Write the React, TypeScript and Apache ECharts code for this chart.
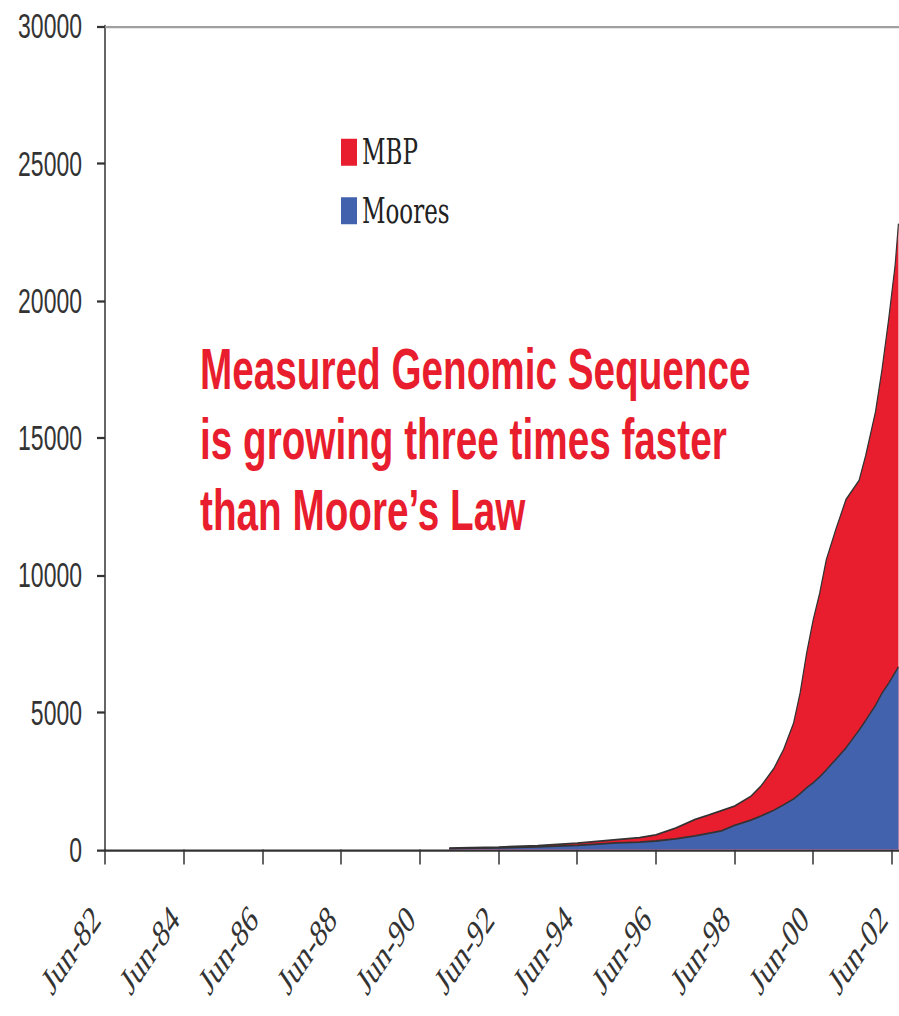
import React, { useEffect, useRef } from "react";
import * as echarts from "echarts";

// Dates of the samples (year-month), MBP measured sequence and Moore's-law curve
const dates = [
  "1991-03", "1991-06", "1992-06", "1993-06",
  "1994-06", "1995-06", "1996-01", "1996-06", "1996-12", "1997-06", "1997-10", "1998-02",
  "1998-06", "1998-11", "1999-02", "1999-06", "1999-09", "1999-12", "2000-02", "2000-04",
  "2000-06", "2000-08", "2000-10", "2001-01", "2001-04", "2001-08", "2001-10", "2002-01",
  "2002-03", "2002-05", "2002-07", "2002-08",
];
const mbp = [
  50, 60, 90, 140,
  230, 360, 430, 530, 780, 1100, 1250, 1420,
  1580, 1940, 2300, 2950, 3650, 4600, 5700, 7160,
  8370, 9350, 10560, 11700, 12750, 13450, 14350, 15950,
  17500, 19300, 21300, 22800,
];
const moores = [
  34, 38, 60, 95,
  150, 240, 270, 310, 390, 500, 590, 680,
  880, 1070, 1220, 1430, 1630, 1840, 2030, 2250,
  2430, 2650, 2900, 3300, 3700, 4350, 4700, 5250,
  5700, 6050, 6450, 6650,
];
const seriesNames = ["MBP", "Moores"];
const yTicks = { min: 0, max: 30000, interval: 5000 };
const annotation = ["Measured Genomic Sequence", "is growing three times faster", "than Moore\u2019s Law"];

const S = 1.5; // vertical stretch of the picture
const W = 899;
const H = 1016;

function monthsSince(d: string): number {
  const [y, m] = d.split("-").map(Number);
  return (y - 1982) * 12 + (m - 6);
}

export default function App() {
  const ref = useRef<HTMLDivElement>(null);
  useEffect(() => {
    if (!ref.current) return;
    const chart = echarts.init(ref.current, undefined, { renderer: "svg" });
    const red = "#E81D2E";
    const blue = "#4262AE";
    const mbpData = dates.map((d, i) => [monthsSince(d), mbp[i]]);
    const mooresData = dates.map((d, i) => [monthsSince(d), moores[i]]);
    chart.setOption({
      animation: false,
      backgroundColor: "#ffffff",
      grid: { left: 105, right: 0, top: 26 / S, bottom: (H - 850) / S },
      legend: {
        orient: "vertical",
        left: 336,
        top: 85,
        itemWidth: 16,
        itemHeight: 18,
        itemGap: 16,
        icon: "rect",
        textStyle: { fontFamily: "DejaVu Serif", fontSize: 23, color: "#222" },
        data: seriesNames,
      },
      xAxis: {
        type: "value",
        min: 0,
        max: 244,
        interval: 24,
        axisLine: { show: true, lineStyle: { color: "#333", width: 1.5 } },
        axisTick: { show: true, length: 10, lineStyle: { color: "#333", width: 1.5 } },
        splitLine: { show: false },
        axisLabel: {
          rotate: 45,
          margin: 51,
          verticalAlign: "bottom",
          fontFamily: "Liberation Serif",
          fontSize: 26,
          color: "#333",
          showMaxLabel: false,
          formatter: (v: number) => {
            if (v % 24 !== 0) return "";
            const yr = (82 + v / 12) % 100;
            return "Jun-" + String(yr).padStart(2, "0");
          },
        },
      },
      yAxis: {
        type: "value",
        min: yTicks.min,
        max: yTicks.max,
        interval: yTicks.interval,
        axisLine: { show: true, lineStyle: { color: "#333", width: 1.5 } },
        axisTick: { show: true, length: 8, lineStyle: { color: "#333", width: 1.5 } },
        splitLine: { show: false },
        axisLabel: {
          margin: 23,
          fontFamily: "Liberation Sans",
          fontSize: 23,
          color: "#333",
          formatter: (v: number) => String(v),
        },
      },
      series: [
        {
          name: seriesNames[0],
          type: "line",
          data: mbpData,
          showSymbol: false,
          symbol: "none",
          lineStyle: { color: "#333", width: 1.2 },
          itemStyle: { color: red },
          areaStyle: { color: red, opacity: 1 },
          markLine: {
            silent: true,
            symbol: "none",
            label: { show: false },
            lineStyle: { color: "#a0a0a0", width: 1.5, type: "solid" },
            data: [{ yAxis: yTicks.max }],
          },
        },
        {
          name: seriesNames[1],
          type: "line",
          data: mooresData,
          showSymbol: false,
          symbol: "none",
          lineStyle: { color: "#333", width: 1.2 },
          itemStyle: { color: blue },
          areaStyle: { color: blue, opacity: 1 },
        },
      ],
      graphic: [
        {
          type: "text",
          left: 200,
          top: 222,
          style: {
            text: annotation.join("\n"),
            fontFamily: "Liberation Sans",
            fontWeight: "bold",
            fontSize: 38.7,
            lineHeight: 47,
            fill: red,
          },
        },
      ],
    });
    return () => chart.dispose();
  }, []);
  return (
    <div style={{ position: "absolute", left: 0, top: 0, width: W, height: H, overflow: "hidden", background: "#fff" }}>
      <div
        ref={ref}
        style={{
          width: 905,
          height: H / S,
          transform: `scaleY(${S})`,
          transformOrigin: "top left",
        }}
      />
    </div>
  );
}
